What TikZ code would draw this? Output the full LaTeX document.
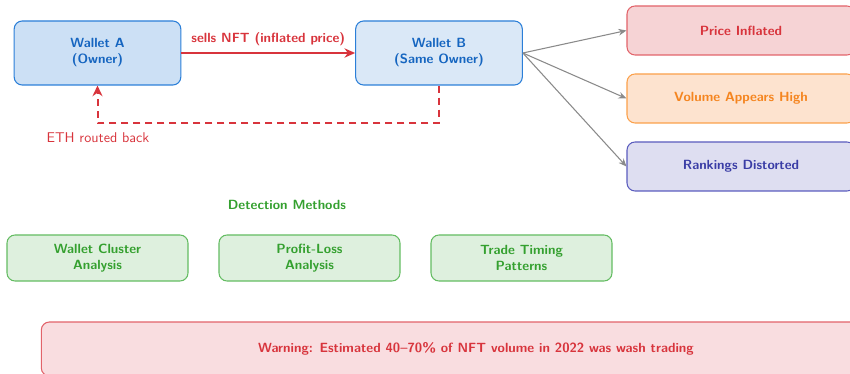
\documentclass[tikz,border=0pt]{standalone}
\usetikzlibrary{arrows.meta}
\definecolor{walletblue}{HTML}{1565C0}
\definecolor{walletedge}{HTML}{2B7FD8}
\definecolor{walletfillA}{HTML}{CCE0F5}
\definecolor{walletfillB}{HTML}{DAE8F7}
\definecolor{alertred}{HTML}{D8343C}
\definecolor{priceedge}{HTML}{E2636A}
\definecolor{pricefill}{HTML}{F6D3D5}
\definecolor{warnfill}{HTML}{F9DDE0}
\definecolor{volorange}{HTML}{F5851F}
\definecolor{voledge}{HTML}{FBA04A}
\definecolor{volfill}{HTML}{FDE3CF}
\definecolor{rankindigo}{HTML}{3A3DA6}
\definecolor{rankedge}{HTML}{5A5CBE}
\definecolor{rankfill}{HTML}{DEDEF1}
\definecolor{detgreen}{HTML}{34A02F}
\definecolor{detedge}{HTML}{64BC62}
\definecolor{detfill}{HTML}{DEF0DE}
\definecolor{linkgray}{HTML}{8A8A8A}
\tikzset{
  box/.style={rounded corners=6pt, line width=0.8pt, align=center, inner sep=0pt,
    font=\sffamily\bfseries},
  wallet/.style={box, draw=walletedge, text=walletblue,
    minimum width=125pt, minimum height=48pt},
  effect/.style={box, minimum width=171pt, minimum height=36.75pt},
  detect/.style={box, draw=detedge, fill=detfill, text=detgreen,
    minimum width=135.75pt, minimum height=34.5pt},
  sellarrow/.style={draw=alertred, line width=1.5pt, -{Stealth[length=8pt,width=7pt]}},
  returnarrow/.style={draw=alertred, line width=1.5pt, dash pattern=on 5.25pt off 3.75pt,
    -{Stealth[length=8pt,width=7.5pt]}},
  effectarrow/.style={draw=linkgray, line width=0.8pt, -{Stealth[length=6pt,width=5pt]}}
}
\begin{document}
\begin{tikzpicture}[x=0.75pt, y=-0.75pt]
\useasboundingbox (0,0) rectangle (850,374);

% the two wallets run by one owner
\node[wallet, fill=walletfillA] (A) at (97.5,53) {Wallet A\\(Owner)};
\node[wallet, fill=walletfillB] (B) at (439,53) {Wallet B\\(Same Owner)};

% sale from A to B and the money flowing back
\draw[sellarrow] (A.east) -- node[above, yshift=1pt, font=\sffamily\bfseries, text=alertred] (sellLabel) {sells NFT (inflated price)} (B.west);
\coordinate (ret) at (97.5,123);
\draw[returnarrow] (B.south) |- (ret) -- (A.south);
\node[font=\fontsize{10.6}{13}\sffamily, text=alertred] (ethLabel) at (98,138) {ETH routed back};

% effects of the wash trade
\node[effect, draw=priceedge, fill=pricefill, text=alertred] (price) at (741,30.5) {Price Inflated};
\node[effect, draw=voledge, fill=volfill, text=volorange] (volume) at (741,98.5) {Volume Appears High};
\node[effect, draw=rankedge, fill=rankfill, text=rankindigo] (rank) at (741,166.5) {Rankings Distorted};
\draw[effectarrow] (B.east) -- (price.west);
\draw[effectarrow] (B.east) -- (volume.west);
\draw[effectarrow] (B.east) -- (rank.west);

% detection methods
\node[font=\sffamily\bfseries, text=detgreen] (detTitle) at (287,205) {Detection Methods};
\node[detect] (cluster) at (97.5,258) {Wallet Cluster\\Analysis};
\node[detect] (profit) at (309.5,258) {Profit-Loss\\Analysis};
\node[detect] (timing) at (521.5,258) {Trade Timing\\Patterns};

% warning banner
\node[box, draw=priceedge, fill=warnfill, text=alertred,
  minimum width=652pt, minimum height=40.5pt] (warn) at (476,349)
  {Warning: Estimated 40--70\% of NFT volume in 2022 was wash trading};
\end{tikzpicture}
\end{document}
